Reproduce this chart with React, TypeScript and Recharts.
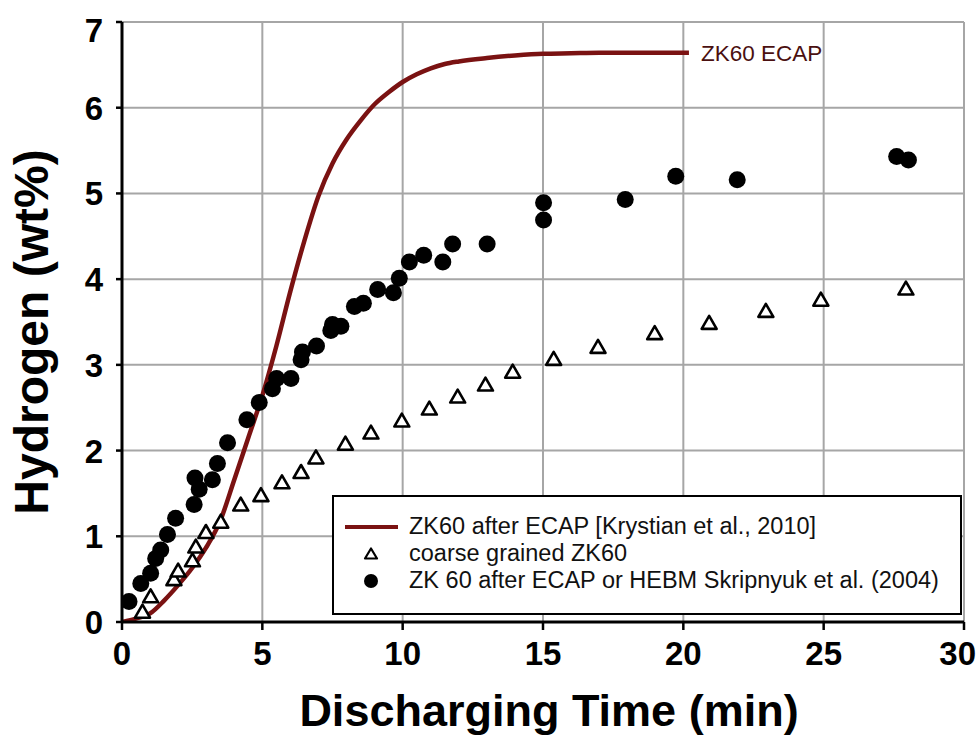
import { ComposedChart, Line, Scatter, XAxis, YAxis, CartesianGrid, Legend, Label, LabelList } from "recharts"

// ZK60 after ECAP [Krystian et al., 2010] - smooth curve
const curveX = [0, 0.5, 1, 1.5, 2, 2.5, 3, 3.5, 4, 4.5, 5, 5.5, 6, 6.5, 7, 7.5, 8, 8.5, 9, 9.5, 10, 10.5, 11, 11.5, 12, 13, 14, 15, 16, 17, 18, 19, 20.2]
const curveY = [0, 0.04, 0.1, 0.25, 0.43, 0.63, 0.87, 1.18, 1.66, 2.15, 2.64, 3.22, 3.86, 4.45, 4.97, 5.35, 5.63, 5.85, 6.04, 6.18, 6.3, 6.39, 6.46, 6.51, 6.54, 6.58, 6.61, 6.63, 6.635, 6.64, 6.64, 6.64, 6.64]

// coarse grained ZK60 - open triangles
const triX = [0.73, 1.02, 1.85, 2.0, 2.51, 2.63, 2.99, 3.52, 4.23, 4.95, 5.7, 6.38, 6.91, 7.96, 8.87, 9.97, 10.95, 11.96, 12.95, 13.92, 15.38, 16.96, 18.98, 20.92, 22.94, 24.9, 27.93]
const triY = [0.12, 0.3, 0.5, 0.6, 0.72, 0.88, 1.05, 1.17, 1.37, 1.48, 1.63, 1.75, 1.92, 2.08, 2.21, 2.35, 2.49, 2.63, 2.77, 2.92, 3.07, 3.21, 3.37, 3.49, 3.63, 3.76, 3.89]

// ZK 60 after ECAP or HEBM Skripnyuk et al. (2004) - filled circles
const dotX = [0.25, 0.67, 1.02, 1.2, 1.38, 1.62, 1.91, 2.57, 2.6, 2.75, 3.22, 3.4, 3.76, 4.45, 4.89, 5.36, 5.51, 6.02, 6.38, 6.43, 6.93, 7.44, 7.5, 7.8, 8.28, 8.6, 9.11, 9.67, 9.88, 10.24, 10.75, 11.43, 11.78, 13.01, 15.02, 15.02, 17.93, 19.73, 21.92, 27.6, 28.02]
const dotY = [0.24, 0.45, 0.57, 0.74, 0.84, 1.02, 1.21, 1.37, 1.68, 1.55, 1.66, 1.85, 2.09, 2.36, 2.56, 2.72, 2.84, 2.84, 3.06, 3.15, 3.22, 3.4, 3.47, 3.45, 3.68, 3.72, 3.88, 3.84, 4.01, 4.2, 4.28, 4.2, 4.41, 4.41, 4.69, 4.89, 4.93, 5.2, 5.16, 5.43, 5.39]

const xTicks = [0, 5, 10, 15, 20, 25, 30]
const yTicks = [0, 1, 2, 3, 4, 5, 6, 7]

const curve = curveX.map((x, i) => ({ x, y: curveY[i] }))
const triangles = triX.map((x, i) => ({ x, y: triY[i] }))
const dots = dotX.map((x, i) => ({ x, y: dotY[i] }))

const RED = "#7a1212"
const font = "'Liberation Sans', Arial, sans-serif"

const Triangle = (props: any) => {
  const { cx, cy } = props
  return (
    <polygon
      points={`${cx},${cy - 7} ${cx + 7.5},${cy + 6} ${cx - 7.5},${cy + 6}`}
      fill="#fff"
      stroke="#000"
      strokeWidth={2.6}
      strokeLinejoin="round"
    />
  )
}

const Dot = (props: any) => <circle cx={props.cx} cy={props.cy} r={8.5} fill="#000" />

const YTick = (props: any) => {
  const { x, y, payload } = props
  const dy = payload.value === 7 ? 20 : 12
  return (
    <text x={x} y={y + dy} textAnchor="end" fontFamily={font} fontWeight="bold" fontSize={33} fill="#000">
      {payload.value}
    </text>
  )
}

const XTick = (props: any) => {
  const { x, payload } = props
  // last label sits against the right edge of the page
  const last = payload.value === 30
  return (
    <text x={last ? 976 : x} y={665} textAnchor={last ? "end" : "middle"} fontFamily={font} fontWeight="bold" fontSize={33} fill="#000">
      {payload.value}
    </text>
  )
}

const renderLegend = () => (
  <div
    style={{
      width: 630,
      height: 120,
      border: "2.5px solid #000",
      background: "#fff",
      boxSizing: "border-box",
      fontFamily: font,
      fontSize: 23.5,
      color: "#111",
      paddingTop: 16,
    }}
  >
    {[
      { label: "ZK60 after ECAP [Krystian et al., 2010]", kind: "line" },
      { label: "coarse grained ZK60", kind: "tri" },
      { label: "ZK 60 after ECAP or HEBM Skripnyuk et al. (2004)", kind: "dot" },
    ].map((row) => (
      <div key={row.label} style={{ display: "flex", alignItems: "center", height: 27 }}>
        <svg width={75} height={26} style={{ flex: "none" }}>
          {row.kind === "line" && <line x1={11} x2={64} y1={13} y2={13} stroke={RED} strokeWidth={4} />}
          {row.kind === "tri" && (
            <polygon points="37,7.5 43,17.5 31,17.5" fill="#fff" stroke="#000" strokeWidth={2.2} strokeLinejoin="round" />
          )}
          {row.kind === "dot" && <circle cx={37} cy={13} r={7} fill="#000" />}
        </svg>
        <span style={{ whiteSpace: "nowrap" }}>{row.label}</span>
      </div>
    ))}
  </div>
)

export default function App() {
  return (
    <div style={{ position: "absolute", left: 0, top: 0, width: 977, height: 738, background: "#fff" }}>
      <ComposedChart width={977} height={738} margin={{ top: 22, right: 13, left: 0, bottom: 0 }}>
        <CartesianGrid stroke="#a6a6a6" strokeWidth={2} horizontalValues={yTicks} verticalValues={xTicks} />
        <XAxis
          type="number"
          dataKey="x"
          domain={[0, 30]}
          ticks={xTicks}
          height={116}
          tick={<XTick />}
          tickSize={8}
          tickLine={{ stroke: "#000", strokeWidth: 2.5 }}
          axisLine={{ stroke: "#000", strokeWidth: 3 }}
          allowDataOverflow
        >
          <Label
            content={() => (
              <text x={549} y={726} textAnchor="middle" fontFamily={font} fontWeight="bold" fontSize={45} fill="#000">
                Discharging Time (min)
              </text>
            )}
          />
        </XAxis>
        <XAxis xAxisId="top" orientation="top" type="number" domain={[0, 30]} height={0} tick={false} tickLine={false} axisLine={{ stroke: "#000", strokeWidth: 3 }} />
        <YAxis
          type="number"
          dataKey="y"
          domain={[0, 7]}
          ticks={yTicks}
          width={122}
          tick={<YTick />}
          tickSize={6}
          tickMargin={13}
          tickLine={{ stroke: "#000", strokeWidth: 2.5 }}
          axisLine={{ stroke: "#000", strokeWidth: 3 }}
          allowDataOverflow
        >
          <Label
            content={() => (
              <text
                x={48}
                y={332}
                transform="rotate(-90 48 332)"
                textAnchor="middle"
                fontFamily={font}
                fontWeight="bold"
                fontSize={48}
                fill="#000"
              >
                Hydrogen (wt%)
              </text>
            )}
          />
        </YAxis>
        <YAxis yAxisId="right" orientation="right" type="number" domain={[0, 7]} width={0} tick={false} tickLine={false} axisLine={{ stroke: "#000", strokeWidth: 3 }} />
        <Line
          data={curve}
          dataKey="y"
          type="monotone"
          stroke={RED}
          strokeWidth={4.5}
          dot={false}
          activeDot={false}
          isAnimationActive={false}
          legendType="none"
        >
          <LabelList
            dataKey="y"
            content={(p: any) =>
              p.index === curve.length - 1 ? (
                <text x={p.x + 12} y={p.y + 8.5} fontFamily={font} fontSize={22.5} fill="#4a1010">
                  ZK60 ECAP
                </text>
              ) : null
            }
          />
        </Line>
        <Scatter data={triangles} dataKey="y" shape={<Triangle />} isAnimationActive={false} />
        <Scatter data={dots} dataKey="y" shape={<Dot />} isAnimationActive={false} />
        <Legend
          layout="vertical"
          align="center"
          verticalAlign="middle"
          content={renderLegend}
          wrapperStyle={{ left: 332, top: 495, width: 630, height: 120 }}
        />
      </ComposedChart>
    </div>
  )
}
